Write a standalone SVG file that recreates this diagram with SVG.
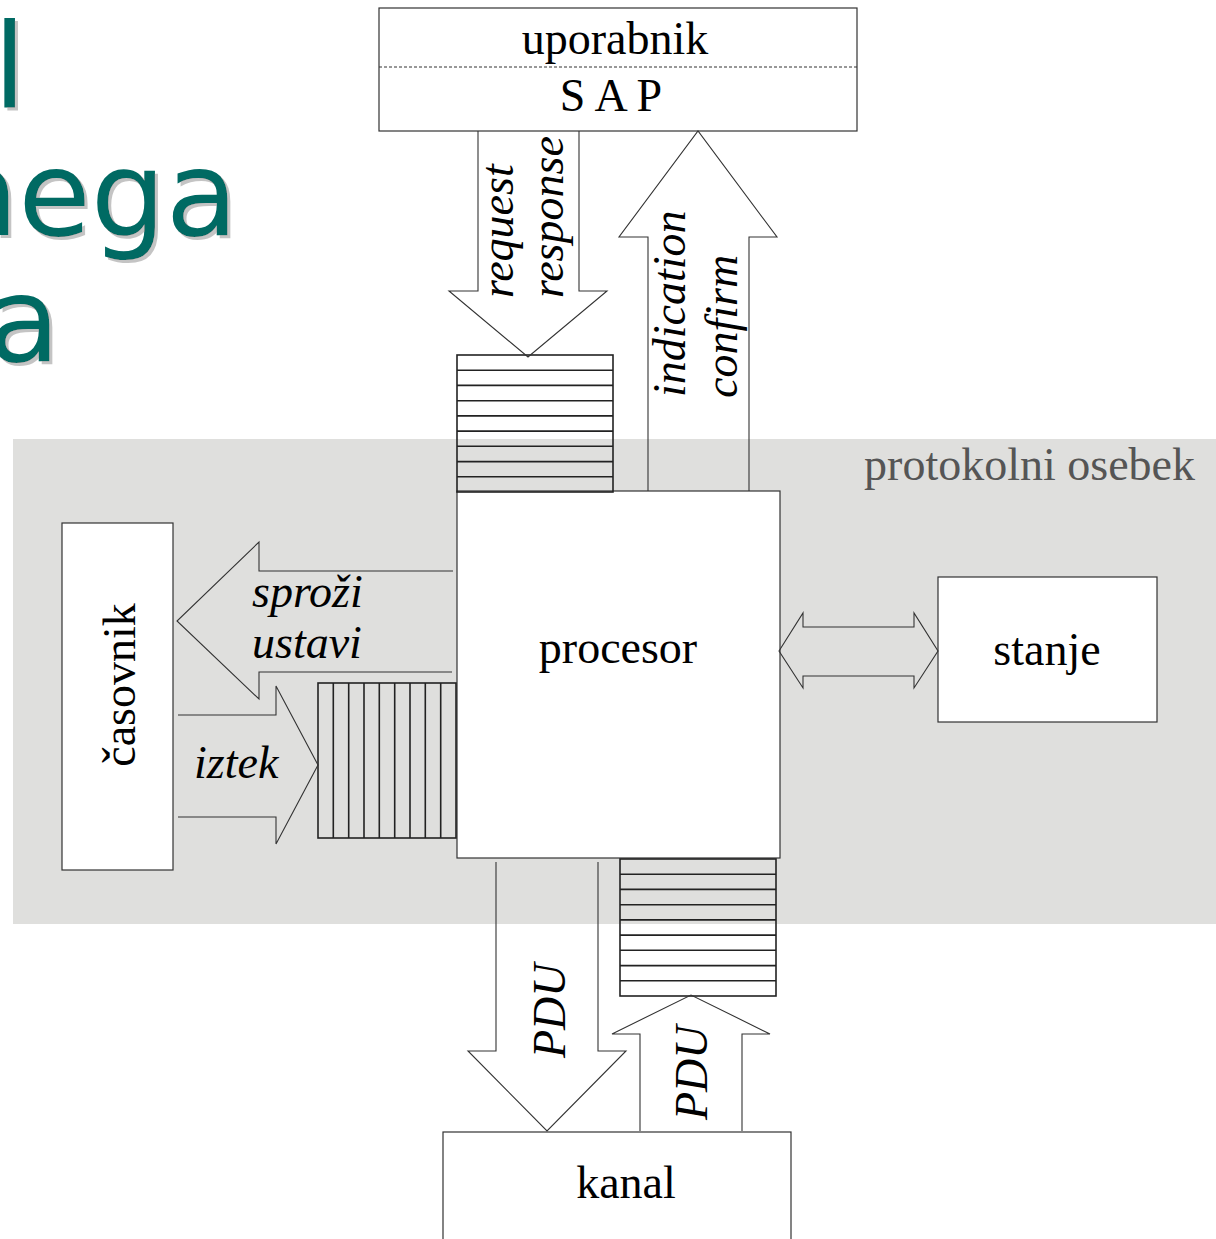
<svg xmlns="http://www.w3.org/2000/svg" width="1216" height="1239" viewBox="0 0 1216 1239">
<defs>
<filter id="shadow" x="-20%" y="-20%" width="140%" height="140%">
<feDropShadow dx="3" dy="3" stdDeviation="0" flood-color="#c4c4c4" flood-opacity="1"/>
</filter>
</defs>
<style>
.title{font-family:"DejaVu Sans",Verdana,sans-serif;font-size:118px;text-anchor:end;fill:#006a64;filter:url(#shadow)}
.t{font-family:"Liberation Serif","Times New Roman",serif;font-size:46px;fill:#000}
.g{fill:#555}
.i{font-style:italic}
.box{fill:#fff;stroke:#333;stroke-width:1.2}
.arr{fill:none;stroke:#333;stroke-width:1.1}
.q{fill:none;stroke:#222;stroke-width:1.6}
</style>
<rect width="1216" height="1239" fill="#fff"/>
<g id="title">
<text class="title" x="26" y="108">l</text>
<text class="title" x="238" y="235">nega</text>
<text class="title" x="60" y="361">a</text>
</g>
<g id="entity">
<rect x="13" y="439" width="1203" height="485" fill="#dfdfdd"/>
<text class="t g" x="1195" y="480" text-anchor="end">protokolni osebek</text>
</g>
<g id="uporabnik">
<rect class="box" x="379" y="8" width="478" height="123"/>
<line x1="379" y1="67" x2="857" y2="67" stroke="#333" stroke-width="1" stroke-dasharray="3,2"/>
<text class="t" x="615" y="54" text-anchor="middle">uporabnik</text>
<text class="t" x="611" y="111" text-anchor="middle">S A P</text>
</g>
<g id="procesor">
<rect class="box" x="457" y="491" width="323" height="367"/>
<text class="t" x="618" y="663" text-anchor="middle">procesor</text>
</g>
<g id="casovnik">
<rect class="box" x="62" y="523" width="111" height="347"/>
<text class="t" transform="translate(135,685) rotate(-90)" text-anchor="middle">časovnik</text>
</g>
<g id="stanje">
<rect class="box" x="938" y="577" width="219" height="145"/>
<text class="t" x="1047" y="665" text-anchor="middle">stanje</text>
</g>
<g id="kanal">
<rect class="box" x="443" y="1132" width="348" height="120"/>
<text class="t" x="626" y="1198" text-anchor="middle">kanal</text>
</g>
<g id="queues">
<g id="queue-top">
<rect class="q" x="457" y="355" width="156" height="137"/>
<path class="q" d="M457 370.2H613M457 385.4H613M457 400.7H613M457 415.9H613M457 431.1H613M457 446.3H613M457 461.6H613M457 476.8H613"/>
</g>
<g id="queue-left">
<rect class="q" x="318" y="683" width="138" height="155"/>
<path class="q" d="M333.3 683V838M348.7 683V838M364 683V838M379.3 683V838M394.7 683V838M410 683V838M425.3 683V838M440.7 683V838"/>
</g>
<g id="queue-bottom">
<rect class="q" x="620" y="859" width="156" height="137"/>
<path class="q" d="M620 874.2H776M620 889.4H776M620 904.7H776M620 919.9H776M620 935.1H776M620 950.3H776M620 965.6H776M620 980.8H776"/>
</g>
</g>
<g id="connectors">
<polyline class="arr" points="478,131 478,291 449,291 528,357 607,291 579,291 579,131"/>
<polyline class="arr" points="648,491 648,237 619,237 698,131 777,237 749,237 749,491"/>
<polyline class="arr" points="453,571 259,571 259,542 177,621 259,699 259,672 452,672"/>
<polyline class="arr" points="178,715 276,715 276,686 318,765 276,844 276,817 178,817"/>
<polygon class="arr" points="779,651 803,613 803,627 914,627 914,613 938,651 914,688 914,676 803,676 803,688"/>
<polyline class="arr" points="496,862 496,1051 468,1051 547,1131 626,1051 598,1051 598,862"/>
<polyline class="arr" points="640,1131 640,1034 612,1034 691,995 770,1034 742,1034 742,1131"/>
</g>
<g id="labels">
<text class="t i" transform="translate(513,298) rotate(-90)">request</text>
<text class="t i" transform="translate(563,298) rotate(-90)">response</text>
<text class="t i" transform="translate(685,397) rotate(-90)">indication</text>
<text class="t i" transform="translate(737,398) rotate(-90)">confirm</text>
<text class="t i" x="252" y="607">sproži</text>
<text class="t i" x="252" y="658">ustavi</text>
<text class="t i" x="194" y="778">iztek</text>
<text class="t i" transform="translate(565,1058) rotate(-90)">PDU</text>
<text class="t i" transform="translate(707,1120) rotate(-90)">PDU</text>
</g>
</svg>
